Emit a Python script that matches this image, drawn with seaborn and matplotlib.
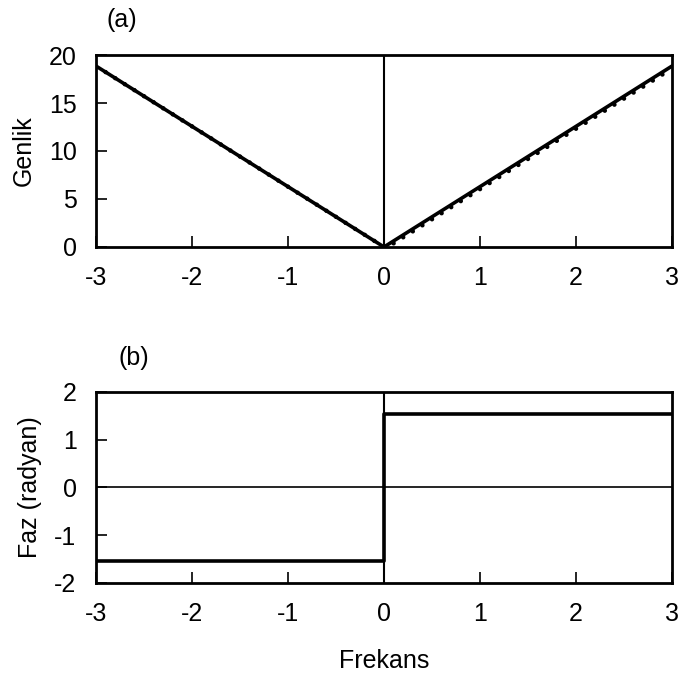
import matplotlib
matplotlib.use("Agg")
import matplotlib.pyplot as plt
import seaborn as sns
import pandas as pd

# Data
freq_line = [-3.0, 0.0, 3.0]
genlik_line = [18.85, 0.0, 18.85]

freq_dots = [-2.9, -2.8, -2.7, -2.6, -2.5, -2.4, -2.3, -2.2, -2.1, -2.0,
             -1.9, -1.8, -1.7, -1.6, -1.5, -1.4, -1.3, -1.2, -1.1, -1.0,
             -0.9, -0.8, -0.7, -0.6, -0.5, -0.4, -0.3, -0.2, -0.1, 0.0,
             0.1, 0.2, 0.3, 0.4, 0.5, 0.6, 0.7, 0.8, 0.9, 1.0,
             1.1, 1.2, 1.3, 1.4, 1.5, 1.6, 1.7, 1.8, 1.9, 2.0,
             2.1, 2.2, 2.3, 2.4, 2.5, 2.6, 2.7, 2.8, 2.9]
genlik_dots = [18.22, 17.59, 16.96, 16.34, 15.71, 15.08, 14.45, 13.82, 13.19, 12.57,
               11.94, 11.31, 10.68, 10.05, 9.42, 8.80, 8.17, 7.54, 6.91, 6.28,
               5.65, 5.03, 4.40, 3.77, 3.14, 2.51, 1.88, 1.26, 0.63, 0.0,
               0.38, 1.01, 1.63, 2.26, 2.89, 3.52, 4.15, 4.78, 5.40, 6.03,
               6.66, 7.29, 7.92, 8.55, 9.17, 9.80, 10.43, 11.06, 11.69, 12.32,
               12.94, 13.57, 14.20, 14.83, 15.46, 16.09, 16.71, 17.34, 17.97]

freq_faz = [-3.0, 0.0, 0.0, 3.0]
faz = [-1.54, -1.54, 1.54, 1.54]

x_ticks = [-3, -2, -1, 0, 1, 2, 3]
y_ticks_top = [0, 5, 10, 15, 20]
y_ticks_bot = [-2, -1, 0, 1, 2]

sns.set_style("white")
plt.rcParams['font.family'] = ['Liberation Sans', 'DejaVu Sans']
plt.rcParams['axes.unicode_minus'] = False
plt.rcParams['text.color'] = 'black'
plt.rcParams['axes.labelcolor'] = 'black'
plt.rcParams['xtick.color'] = 'black'
plt.rcParams['ytick.color'] = 'black'

FS = 18

fig = plt.figure(figsize=(6.79, 6.75), dpi=100)
ax1 = fig.add_axes([0.1414, 0.6341, 0.8483, 0.2844])
ax2 = fig.add_axes([0.1414, 0.1363, 0.8483, 0.2830])

df_line = pd.DataFrame({"f": freq_line, "g": genlik_line})
df_dots = pd.DataFrame({"f": freq_dots, "g": genlik_dots})
df_faz = pd.DataFrame({"f": freq_faz, "p": faz})

# Top panel
ax1.axvline(0, color="black", lw=1.5, zorder=1)
sns.scatterplot(data=df_dots, x="f", y="g", ax=ax1, color="black", s=10,
                edgecolor="none", zorder=2)
sns.lineplot(data=df_line, x="f", y="g", ax=ax1, color="black", lw=2.6,
             sort=False, estimator=None, zorder=3)
ax1.set_xlim(-3, 3)
ax1.set_ylim(0, 20)
ax1.set_xticks(x_ticks)
ax1.set_yticks(y_ticks_top)
ax1.set_xlabel("")
ax1.set_ylabel("Genlik", fontsize=FS, labelpad=9)
ax1.text(0.045, 1.18, "(a)", transform=ax1.transAxes, ha="center", va="center", fontsize=FS)

# Bottom panel
ax2.axhline(0, color="black", lw=1.2, zorder=1)
ax2.axvline(0, color="black", lw=1.5, zorder=1)
sns.lineplot(data=df_faz, x="f", y="p", ax=ax2, color="black", lw=2.6,
             sort=False, estimator=None, zorder=3)
ax2.set_xlim(-3, 3)
ax2.set_ylim(-2, 2)
ax2.set_xticks(x_ticks)
ax2.set_yticks(y_ticks_bot)
ax2.set_xlabel("Frekans", fontsize=FS, labelpad=16)
ax2.set_ylabel("Faz (radyan)", fontsize=FS, labelpad=9)
ax2.text(0.065, 1.18, "(b)", transform=ax2.transAxes, ha="center", va="center", fontsize=FS)

for ax in (ax1, ax2):
    for side in ("top", "right", "left", "bottom"):
        ax.spines[side].set_visible(True)
        ax.spines[side].set_linewidth(2.0)
        ax.spines[side].set_color("black")
    ax.tick_params(axis="both", which="major", direction="in", length=8,
                   width=1.2, color="black", labelcolor="black", labelsize=FS, pad=14,
                   left=True, bottom=True, top=False, right=False)
    ax.grid(False)

fig.savefig("out.png", dpi=100)
